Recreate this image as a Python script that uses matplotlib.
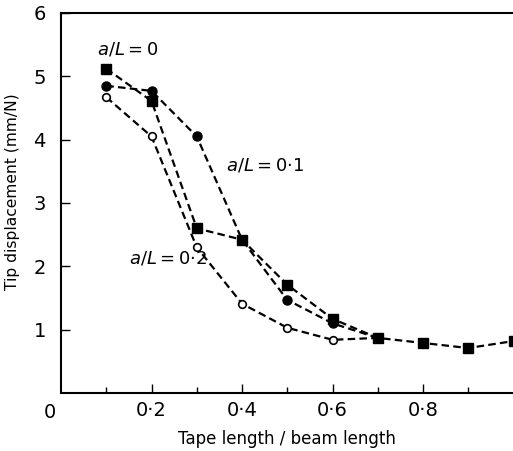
import matplotlib
matplotlib.use("Agg")
import matplotlib.pyplot as plt

# Tip displacement (mm/N) vs tape length / beam length
x_a0 = [0.1, 0.2, 0.3, 0.4, 0.5, 0.6, 0.7, 0.8, 0.9, 1.0]
y_a0 = [5.12, 4.61, 2.60, 2.42, 1.71, 1.17, 0.87, 0.79, 0.71, 0.82]

x_a01 = [0.1, 0.2, 0.3, 0.4, 0.5, 0.6, 0.7]
y_a01 = [4.85, 4.77, 4.05, 2.42, 1.47, 1.10, 0.87]

x_a02 = [0.1, 0.2, 0.3, 0.4, 0.5, 0.6, 0.7]
y_a02 = [4.67, 4.05, 2.30, 1.41, 1.03, 0.84, 0.87]

xticks = [0.2, 0.4, 0.6, 0.8]
xtick_labels = ["0·2", "0·4", "0·6", "0·8"]
yticks = [1, 2, 3, 4, 5, 6]

plt.rcParams["font.family"] = "DejaVu Sans"

fig = plt.figure(figsize=(5.13, 4.51), dpi=100)
ax = fig.add_axes([0.119, 0.1286, 0.882, 0.8426])

common = dict(color="black", linestyle="--", linewidth=1.6, dashes=(3.4, 1.9))
ax.plot(x_a02, y_a02, marker="o", markersize=5.5, markerfacecolor="white",
        markeredgecolor="black", markeredgewidth=1.2, **common)
ax.plot(x_a01, y_a01, marker="o", markersize=6.5, markerfacecolor="black",
        markeredgecolor="black", **common)
ax.plot(x_a0, y_a0, marker="s", markersize=6.5, markerfacecolor="black",
        markeredgecolor="black", **common)

ax.set_xlim(0, 1.0)
ax.set_ylim(0, 6)

ax.set_xticks(xticks)
ax.set_xticklabels(xtick_labels)
ax.set_xticks([0.1, 0.3, 0.5, 0.7, 0.9], minor=True)
ax.set_yticks(yticks)
ax.tick_params(axis="both", which="major", direction="in", length=6.5,
               width=1.0, labelsize=14)
ax.tick_params(axis="x", which="major", pad=6)
ax.tick_params(axis="y", which="major", pad=11)
ax.tick_params(axis="x", which="minor", direction="in", length=4, width=1.0)

for side in ["left", "bottom", "top"]:
    ax.spines[side].set_linewidth(1.5)
ax.spines["right"].set_visible(False)

ax.annotate("0", xy=(0, 0), xycoords="data", xytext=(-8, -14),
            textcoords="offset points", ha="center", va="center", fontsize=14)

ax.set_xlabel("Tape length / beam length", fontsize=12, labelpad=7)
ax.set_ylabel("Tip displacement (mm/N)", fontsize=11.2)
ax.yaxis.set_label_coords(-0.0906, 0.529)

ax.text(0.148, 5.42, r"$a/L=0$", fontsize=13, ha="center", va="center")
ax.text(0.45, 3.59, r"$a/L=0{\cdot}1$", fontsize=13, ha="center", va="center")
ax.text(0.236, 2.13, r"$a/L=0{\cdot}2$", fontsize=13, ha="center", va="center")

fig.savefig("out.png", dpi=100)
